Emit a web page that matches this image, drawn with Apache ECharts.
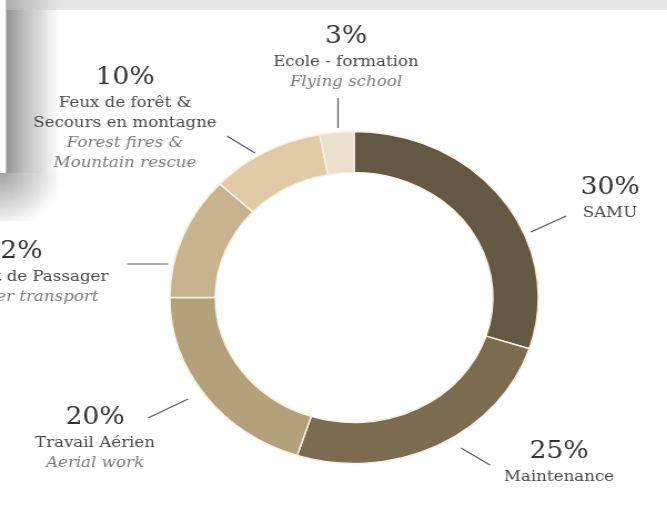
<!DOCTYPE html>
<html>
<head>
<meta charset="utf-8">
<script src="https://cdn.jsdelivr.net/npm/echarts@6/dist/echarts.min.js"></script>
<style>
  html, body { margin: 0; padding: 0; background: #fff; overflow: hidden; }
  /* the reference is stretched horizontally, so the chart is drawn narrower and scaled */
  #chart { width: 601px; height: 512px; transform: scaleX(1.11); transform-origin: 0 0; }
</style>
</head>
<body>
<div id="chart"></div>
<script>
const percents = [30, 25, 20, 12, 10, 3]
const namesFr = ['SAMU', 'Maintenance', 'Travail Aérien', 'Transport de Passager', 'Feux de forêt &\nSecours en montagne', 'Ecole - formation']
const namesEn = ['', '', 'Aerial work', 'Passenger transport', 'Forest fires &\nMountain rescue', 'Flying school']
const sliceColors = ['#635842', '#7b6c4f', '#b3a17a', '#c7b38d', '#dfcba6', '#ebdfcd']

// layout of the labels, in page pixels
const SX = 1.11
const labelAnchors = [[610, 173], [559, 437], [95, 403], [13, 237], [125, 63], [346, 22]]
const leaderLines = [
  [[531, 232], [566, 216]],
  [[461, 448], [490, 465]],
  [[188, 399], [148, 418]],
  [[168, 264], [127, 264]],
  [[255, 153], [227, 136]],
  [[338, 128], [338, 98]]
]

const chart = echarts.init(document.getElementById('chart'))

function labelText(i) {
  const lines = ['{p|' + percents[i] + '%}']
  namesFr[i].split('\n').forEach(t => lines.push('{fr|' + t + '}'))
  if (namesEn[i]) {
    namesEn[i].split('\n').forEach(t => lines.push('{en|' + t + '}'))
  }
  return lines.join('\n')
}

const option = {
  animation: false,
  backgroundColor: '#fff',
  graphic: [
    {
      type: 'rect',
      silent: true,
      shape: { x: 6 / SX, y: 0, width: 60 / SX, height: 173 },
      style: {
        fill: {
          type: 'linear', x: 0, y: 0, x2: 1, y2: 0,
          colorStops: [
            { offset: 0, color: '#959595' },
            { offset: 0.3, color: '#bdbdbd' },
            { offset: 0.65, color: '#e4e4e4' },
            { offset: 1, color: 'rgba(255,255,255,0)' }
          ]
        }
      }
    },
    {
      type: 'rect',
      silent: true,
      shape: { x: 0, y: 173, width: 70 / SX, height: 48 },
      style: {
        fill: {
          type: 'radial', x: 0, y: 173, r: 62, global: true,
          colorStops: [
            { offset: 0, color: '#a2a2a2' },
            { offset: 0.35, color: '#c6c6c6' },
            { offset: 0.7, color: '#eaeaea' },
            { offset: 1, color: 'rgba(255,255,255,0)' }
          ]
        }
      }
    },
    {
      type: 'rect',
      silent: true,
      shape: { x: 6 / SX, y: 0, width: 601, height: 10 },
      style: { fill: 'rgba(200,200,200,0.45)' }
    }
  ],
  series: [
    {
      type: 'pie',
      center: [319, 297.5],
      radius: [125, 166],
      startAngle: 90,
      clockwise: true,
      silent: true,
      itemStyle: {
        borderColor: '#f7f1e6',
        borderWidth: 1.5
      },
      label: {
        show: true,
        position: 'outside',
        overflow: 'none',
        fontFamily: 'DejaVu Serif',
        formatter: function(params) {
          return labelText(params.dataIndex)
        },
        rich: {
          p: { fontFamily: 'DejaVu Serif', fontSize: 24, lineHeight: 30, color: '#333333', align: 'center' },
          fr: { fontFamily: 'DejaVu Serif', fontSize: 15, lineHeight: 20, color: '#474747', align: 'center' },
          en: { fontFamily: 'DejaVu Serif', fontStyle: 'italic', fontSize: 15, lineHeight: 20, color: '#7a7a7a', align: 'center' }
        }
      },
      labelLine: {
        show: true,
        lineStyle: { color: '#555', width: 1.2 }
      },
      labelLayout: function(params) {
        const i = params.dataIndex
        return {
          x: labelAnchors[i][0] / SX,
          y: labelAnchors[i][1],
          width: 300,
          align: 'center',
          verticalAlign: 'top',
          labelLinePoints: leaderLines[i].map(p => [p[0] / SX, p[1]])
        }
      },
      data: percents.map((v, i) => ({
        value: v,
        name: namesFr[i],
        itemStyle: { color: sliceColors[i] }
      }))
    }
  ]
}

chart.setOption(option)
</script>
</body>
</html>
